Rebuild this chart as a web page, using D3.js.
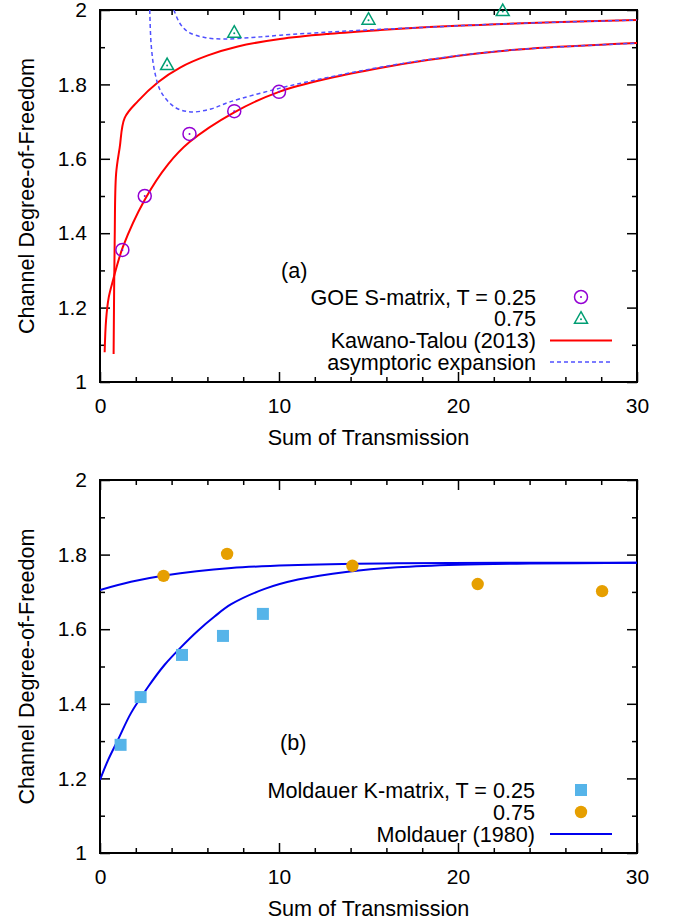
<!DOCTYPE html>
<html>
<head>
<meta charset="utf-8">
<script src="https://cdn.jsdelivr.net/npm/d3@7"></script>
<style>
  body { margin: 0; background: #fff; }
  text { font-family: "Liberation Sans", Arial, Helvetica, sans-serif; fill: #000; }
</style>
</head>
<body>
<div class="chart"></div>
<script>
// panel (a): GOE S-matrix points
const goeX25 = [1.25, 2.5, 5, 7.5, 10];
const goeY25 = [1.355, 1.5, 1.667, 1.728, 1.78];
const goeX75 = [3.75, 7.5, 15, 22.5];
const goeY75 = [1.852, 1.939, 1.974, 1.997];

// Kawano-Talou curves
const ktX25 = [0.26, 0.34, 0.49, 0.73, 1.28, 2.5, 3.8, 5, 7.5, 10, 12.85, 15.64, 18.4, 21.2, 24, 30];
const ktY25 = [1.08, 1.167, 1.228, 1.274, 1.363, 1.49, 1.585, 1.645, 1.725, 1.78, 1.817, 1.844, 1.866, 1.884, 1.896, 1.911];
const ktX75 = [0.76, 0.82, 0.9, 1.1, 1.38, 2.12, 3.24, 4.5, 6.03, 7.7, 10.06, 12.85, 15.64, 18.4, 21.2, 24, 30];
const ktY75 = [1.075, 1.38, 1.56, 1.63, 1.71, 1.755, 1.806, 1.846, 1.878, 1.902, 1.922, 1.936, 1.946, 1.954, 1.96, 1.965, 1.973];

// asymptotic expansion (dashed)
const asyX25 = [2.78, 2.86, 3.06, 3.41, 4.17, 5.08, 6.2, 7.26, 10.06, 12.85, 15.64, 18.4, 21.2, 24, 30];
const asyY25 = [2.0, 1.906, 1.833, 1.78, 1.739, 1.726, 1.734, 1.753, 1.79, 1.82, 1.846, 1.867, 1.884, 1.896, 1.911];
const asyX75 = [4.13, 4.45, 4.92, 5.85, 6.97, 8.5, 10.06, 12.85, 15.64, 18.4, 21.2, 24, 30];
const asyY75 = [2.0, 1.965, 1.941, 1.926, 1.922, 1.926, 1.932, 1.941, 1.948, 1.954, 1.96, 1.965, 1.973];

// panel (b): Moldauer K-matrix points
const mkX25 = [1.15, 2.27, 4.58, 6.87, 9.1];
const mkY25 = [1.29, 1.418, 1.531, 1.582, 1.641];
const mkX75 = [3.55, 7.1, 14.1, 21.1, 28.05];
const mkY75 = [1.743, 1.802, 1.77, 1.721, 1.702];

// Moldauer (1980) curves
const moX25 = [0, 0.45, 1.0, 1.73, 2.68, 3.6, 4.53, 5.47, 6.4, 7.33, 9.2, 11.06, 13.85, 16.6, 20, 24, 30];
const moY25 = [1.196, 1.249, 1.303, 1.375, 1.445, 1.504, 1.552, 1.596, 1.634, 1.667, 1.708, 1.733, 1.754, 1.766, 1.773, 1.776, 1.778];
const moX75 = [0, 1.73, 3.6, 7.33, 11.06, 16.6, 30];
const moY75 = [1.705, 1.727, 1.744, 1.764, 1.772, 1.777, 1.778];

const xMajor = [0, 10, 20, 30];
const xMinor = [2, 4, 6, 8, 12, 14, 16, 18, 22, 24, 26, 28];
const yMajor = [1, 1.2, 1.4, 1.6, 1.8, 2];
const yMinor = [1.1, 1.3, 1.5, 1.7, 1.9];

const legendA = ["GOE S-matrix, T = 0.25", "0.75", "Kawano-Talou (2013)", "asymptoric expansion"];
const legendB = ["Moldauer K-matrix, T = 0.25", "0.75", "Moldauer (1980)"];

const width = 682, height = 922;
const left = 100, right = 637;
const fs = "21.6px";

const svg = d3.select(".chart").append("svg")
    .attr("width", width)
    .attr("height", height);

const zip = (xs, ys) => xs.map((x, i) => ({x: x, y: ys[i]}));

function panel(top, bottom, id) {
    let x = d3.scaleLinear().domain([0, 30]).range([left, right]);
    let y = d3.scaleLinear().domain([1, 2]).range([bottom, top]);
    let g = svg.append("g");

    svg.append("clipPath").attr("id", id)
        .append("rect")
        .attr("x", left).attr("y", top)
        .attr("width", right - left).attr("height", bottom - top);

    const ax = (axis, tx, ty) => {
        let a = g.append("g")
            .attr("transform", `translate(${tx},${ty})`)
            .call(axis);
        a.select(".domain").remove();
        a.selectAll("line").attr("stroke", "#000").attr("stroke-width", 1.5);
        a.selectAll("text").style("font-size", "21px")
            .style("font-family", "'Liberation Sans', Arial, sans-serif");
        return a;
    };

    ax(d3.axisBottom(x).tickValues(xMajor).tickSize(-10).tickPadding(16).tickFormat(d3.format("d")), 0, bottom);
    ax(d3.axisBottom(x).tickValues(xMinor).tickSize(-5).tickFormat(""), 0, bottom);
    ax(d3.axisTop(x).tickValues(xMajor).tickSize(-10).tickFormat(""), 0, top);
    ax(d3.axisTop(x).tickValues(xMinor).tickSize(-5).tickFormat(""), 0, top);
    ax(d3.axisLeft(y).tickValues(yMajor).tickSize(-10).tickPadding(13).tickFormat(d => d3.format("~g")(d)), left, 0);
    ax(d3.axisLeft(y).tickValues(yMinor).tickSize(-5).tickFormat(""), left, 0);
    ax(d3.axisRight(y).tickValues(yMajor).tickSize(-10).tickFormat(""), right, 0);
    ax(d3.axisRight(y).tickValues(yMinor).tickSize(-5).tickFormat(""), right, 0);

    g.append("rect")
        .attr("x", left).attr("y", top)
        .attr("width", right - left).attr("height", bottom - top)
        .attr("fill", "none")
        .attr("stroke", "#000")
        .attr("stroke-width", 2);

    svg.append("text")
        .attr("x", (left + right) / 2)
        .attr("y", bottom + 63)
        .attr("text-anchor", "middle")
        .style("font-size", fs)
        .text("Sum of Transmission");

    svg.append("text")
        .attr("transform", `translate(34,${(top + bottom) / 2}) rotate(-90)`)
        .attr("text-anchor", "middle")
        .style("font-size", fs)
        .text("Channel Degree-of-Freedom");

    let line = d3.line().x(d => x(d.x)).y(d => y(d.y)).curve(d3.curveCatmullRom.alpha(0.5));
    let curves = svg.append("g").attr("clip-path", `url(#${id})`);
    return {x: x, y: y, line: line, curves: curves};
}

function circleMark(sel, cx, cy, color) {
    sel.append("circle").attr("cx", cx).attr("cy", cy).attr("r", 6.5)
        .attr("fill", "none").attr("stroke", color).attr("stroke-width", 1.5);
    sel.append("circle").attr("cx", cx).attr("cy", cy).attr("r", 1)
        .attr("fill", color);
}

function triMark(sel, cx, cy, color) {
    sel.append("path")
        .attr("d", `M${cx},${cy - 7}L${cx + 6.5},${cy + 4.5}L${cx - 6.5},${cy + 4.5}Z`)
        .attr("fill", "none").attr("stroke", color).attr("stroke-width", 1.5);
    sel.append("circle").attr("cx", cx).attr("cy", cy + 0.5).attr("r", 1)
        .attr("fill", color);
}

function squareMark(sel, cx, cy, color) {
    sel.append("rect").attr("x", cx - 6).attr("y", cy - 6)
        .attr("width", 12).attr("height", 12).attr("fill", color);
}

function dotMark(sel, cx, cy, color) {
    sel.append("circle").attr("cx", cx).attr("cy", cy).attr("r", 6.2).attr("fill", color);
}

const red = "#ff0000", dash = "#5050ff", blue = "#0000ee";
const purple = "#9400d3", green = "#009e73", sky = "#56b4e9", orange = "#e69f00";

// ---- panel (a)
let pa = panel(10, 382, "clipA");
[zip(ktX25, ktY25), zip(ktX75, ktY75)].forEach(d => {
    pa.curves.append("path").attr("d", pa.line(d))
        .attr("fill", "none").attr("stroke", red).attr("stroke-width", 2);
});
[zip(asyX25, asyY25), zip(asyX75, asyY75)].forEach(d => {
    pa.curves.append("path").attr("d", pa.line(d))
        .attr("fill", "none").attr("stroke", dash).attr("stroke-width", 1.5)
        .attr("stroke-dasharray", "4,3");
});
let ma = svg.append("g");
zip(goeX25, goeY25).forEach(d => circleMark(ma, pa.x(d.x), pa.y(d.y), purple));
zip(goeX75, goeY75).forEach(d => triMark(ma, pa.x(d.x), pa.y(d.y), green));

svg.append("text").attr("x", 281).attr("y", 278).style("font-size", fs).text("(a)");

let la = svg.append("g");
legendA.forEach((t, i) => {
    let cy = 297 + i * 21.7;
    la.append("text").attr("x", 536).attr("y", cy).attr("dy", "0.36em")
        .attr("text-anchor", "end").style("font-size", fs).text(t);
});
circleMark(la, 581, 297, purple);
triMark(la, 581, 318.7, green);
la.append("line").attr("x1", 550).attr("x2", 612).attr("y1", 340.4).attr("y2", 340.4)
    .attr("stroke", red).attr("stroke-width", 2);
la.append("line").attr("x1", 550).attr("x2", 612).attr("y1", 362.1).attr("y2", 362.1)
    .attr("stroke", dash).attr("stroke-width", 1.5).attr("stroke-dasharray", "4,3");

// ---- panel (b)
let pb = panel(480, 853, "clipB");
[zip(moX25, moY25), zip(moX75, moY75)].forEach(d => {
    pb.curves.append("path").attr("d", pb.line(d))
        .attr("fill", "none").attr("stroke", blue).attr("stroke-width", 2);
});
let mb = svg.append("g");
zip(mkX25, mkY25).forEach(d => squareMark(mb, pb.x(d.x), pb.y(d.y), sky));
zip(mkX75, mkY75).forEach(d => dotMark(mb, pb.x(d.x), pb.y(d.y), orange));

svg.append("text").attr("x", 280).attr("y", 750).style("font-size", fs).text("(b)");

let lb = svg.append("g");
legendB.forEach((t, i) => {
    let cy = 790 + i * 22;
    lb.append("text").attr("x", 535).attr("y", cy).attr("dy", "0.36em")
        .attr("text-anchor", "end").style("font-size", fs).text(t);
});
squareMark(lb, 581, 790, sky);
dotMark(lb, 581, 812, orange);
lb.append("line").attr("x1", 550).attr("x2", 612).attr("y1", 834).attr("y2", 834)
    .attr("stroke", blue).attr("stroke-width", 2);
</script>
</body>
</html>
